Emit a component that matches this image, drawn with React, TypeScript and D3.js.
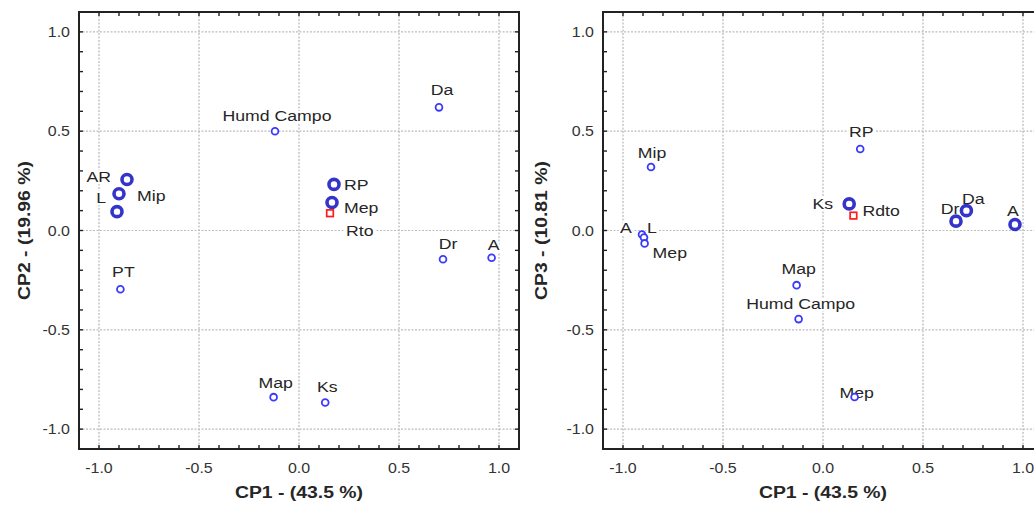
import React from 'react';
import * as d3 from 'd3';

// tick values and labels shared by both panels
const majorTicks = [-1.0, -0.5, 0.0, 0.5, 1.0];
const tickLabels = ['-1.0', '-0.5', '0.0', '0.5', '1.0'];
const minorTicks = [-1.0, -0.9, -0.8, -0.7, -0.6, -0.5, -0.4, -0.3, -0.2, -0.1, 0.0, 0.1, 0.2, 0.3, 0.4, 0.5, 0.6, 0.7, 0.8, 0.9, 1.0];

// CP1 vs CP2
const cp12Names = ['Humd Campo', 'Da', 'AR', 'L', 'Mip', 'RP', 'Mep', 'Rto', 'Dr', 'A', 'PT', 'Map', 'Ks'];
const cp12X = [-0.12, 0.70, -0.86, -0.90, -0.91, 0.175, 0.165, 0.155, 0.72, 0.963, -0.893, -0.127, 0.131];
const cp12Y = [0.50, 0.62, 0.257, 0.185, 0.095, 0.232, 0.141, 0.087, -0.145, -0.137, -0.296, -0.839, -0.866];
// o = plain circle, O = overlapping (bold) circle, s = square (supplementary variable)
const cp12Kind = ['o', 'o', 'O', 'O', 'O', 'O', 'O', 's', 'o', 'o', 'o', 'o', 'o'];

// CP1 vs CP3
const cp13Names = ['Mip', 'RP', 'Ks', 'Rdto', 'Dr', 'Da', 'A', 'A', 'L', 'Mep', 'Map', 'Humd Campo', 'Mep'];
const cp13X = [-0.86, 0.186, 0.131, 0.152, 0.665, 0.717, 0.96, -0.905, -0.895, -0.892, -0.132, -0.122, 0.158];
const cp13Y = [0.32, 0.41, 0.134, 0.075, 0.047, 0.10, 0.03, -0.02, -0.035, -0.065, -0.275, -0.446, -0.838];
const cp13Kind = ['o', 'o', 'O', 's', 'O', 'O', 'O', 'o', 'o', 'o', 'o', 'o', 'o'];

// label placement (layout only): [dx, dy, anchor]
const cp12Place: [number, number, string][] = [
  [2, -15, 'middle'], [3, -17, 'middle'], [-16, -3, 'end'], [-13, 4, 'end'], [20, -16, 'start'],
  [10, 0, 'start'], [12, 5, 'start'], [16, 18, 'start'], [5, -15, 'middle'], [2, -13, 'middle'],
  [3, -17, 'middle'], [2, -14, 'middle'], [2, -16, 'middle'],
];
const cp13Place: [number, number, string][] = [
  [1, -14, 'middle'], [1, -17, 'middle'], [-16, 0, 'end'], [9, -5, 'start'], [-6, -12, 'middle'],
  [7, -12, 'middle'], [-2, -14, 'middle'], [-16, -7, 'middle'], [8, -10, 'middle'], [8, 9, 'start'],
  [2, -16, 'middle'], [2, -15, 'middle'], [2, -4, 'middle'],
];

const FONT = "'Liberation Sans', Arial, Helvetica, sans-serif";
const TEXT = '#262626';
const STRETCH = 1.14;

function Panel({ left, xs, ys, names, kinds, place, yTitle, titleX }) {
  const top = 12, bottom = 449, width = 440;
  const x = d3.scaleLinear().domain([-1.1, 1.1]).range([left, left + width]);
  const y = d3.scaleLinear().domain([-1.1, 1.1]).range([bottom, top]);

  return (
    <g>
      {/* grid */}
      {majorTicks.map(t => (
        <line key={'gx' + t} x1={x(t)} x2={x(t)} y1={top} y2={bottom}
          stroke="#d0d0d0" strokeWidth={1.8} strokeDasharray="2,1.5" />
      ))}
      {majorTicks.map(t => (
        <line key={'gy' + t} x1={left} x2={left + width} y1={y(t)} y2={y(t)}
          stroke="#bdbdbd" strokeWidth={1.2} strokeDasharray="2,1.5" />
      ))}

      {/* inward ticks on all sides */}
      {minorTicks.map(t => (
        <g key={'t' + t} stroke="#222" strokeWidth={1.4}>
          <line x1={x(t)} x2={x(t)} y1={top} y2={top + 4} />
          <line x1={x(t)} x2={x(t)} y1={bottom} y2={bottom - 4} />
          <line x1={left} x2={left + 4} y1={y(t)} y2={y(t)} />
          <line x1={left + width} x2={left + width - 4} y1={y(t)} y2={y(t)} />
        </g>
      ))}

      <rect x={left} y={top} width={width} height={bottom - top} fill="none" stroke="#222" strokeWidth={2} />

      {/* tick labels */}
      {majorTicks.map((t, i) => (
        <text key={'lx' + t} transform={`translate(${x(t)},${468}) scale(${STRETCH},1)`}
          textAnchor="middle" dominantBaseline="central" fontSize={14} fill="#333" fontFamily={FONT}>
          {tickLabels[i]}
        </text>
      ))}
      {majorTicks.map((t, i) => (
        <text key={'ly' + t} transform={`translate(${left - 9},${y(t)}) scale(${STRETCH},1)`}
          textAnchor="end" dominantBaseline="central" fontSize={14} fill="#333" fontFamily={FONT}>
          {tickLabels[i]}
        </text>
      ))}

      {/* axis titles */}
      <text transform={`translate(${x(0)},${492}) scale(${STRETCH},1)`} textAnchor="middle"
        dominantBaseline="central" fontSize={17} fontWeight="bold" fill={TEXT} fontFamily={FONT}>
        CP1 - (43.5 %)
      </text>
      <text transform={`translate(${titleX},${y(0)}) rotate(-90) scale(${STRETCH},1)`} textAnchor="middle"
        dominantBaseline="central" fontSize={17} fontWeight="bold" fill={TEXT} fontFamily={FONT}>
        {yTitle}
      </text>

      {/* labels */}
      {names.map((n, i) => {
        const [dx, dy, anchor] = place[i];
        return (
          <text key={'n' + i} transform={`translate(${x(xs[i]) + dx},${y(ys[i]) + dy}) scale(${STRETCH},1)`}
            textAnchor={anchor} dominantBaseline="central" fontSize={15.5} fill={TEXT} fontFamily={FONT}
            stroke="#fff" strokeWidth={4} paintOrder="stroke" strokeLinejoin="round">
            {n}
          </text>
        );
      })}

      {/* markers */}
      {names.map((n, i) => {
        const cx = x(xs[i]), cy = y(ys[i]);
        if (kinds[i] === 's')
          return <rect key={'m' + i} x={cx - 3.3} y={cy - 3.3} width={6.6} height={6.6} fill="#fff" stroke="#ff1a1a" strokeWidth={1.7} />;
        if (kinds[i] === 'O')
          return <circle key={'m' + i} cx={cx} cy={cy} r={5} fill="#fff" stroke="#3434c8" strokeWidth={3.6} />;
        return <circle key={'m' + i} cx={cx} cy={cy} r={3.4} fill="#fff" stroke="#3a3aff" strokeWidth={1.8} />;
      })}
    </g>
  );
}

export default function App() {
  return (
    <svg width={1034} height={506} style={{ position: 'absolute', left: 0, top: 0, background: '#fff' }}>
      <rect width={1034} height={506} fill="#fff" />
      <Panel left={79} xs={cp12X} ys={cp12Y} names={cp12Names} kinds={cp12Kind} place={cp12Place}
        yTitle="CP2 - (19.96 %)" titleX={24} />
      <Panel left={603} xs={cp13X} ys={cp13Y} names={cp13Names} kinds={cp13Kind} place={cp13Place}
        yTitle="CP3 - (10.81 %)" titleX={541} />
    </svg>
  );
}
